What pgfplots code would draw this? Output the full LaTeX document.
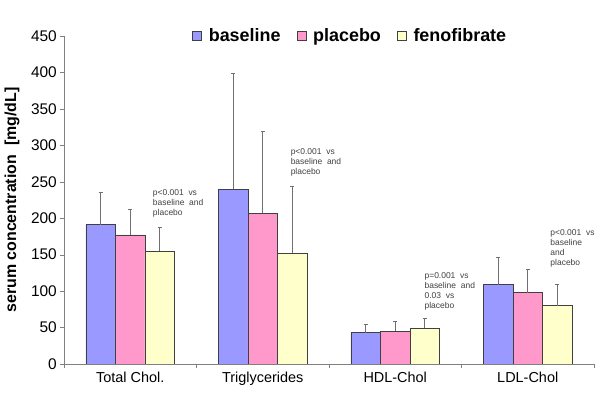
\documentclass[border=0pt]{standalone}
\usepackage{pgfplots}
\pgfplotsset{compat=1.18}
\usepackage{fontspec}
\setmainfont{Liberation Sans}
\definecolor{cBase}{HTML}{9999FF}
\definecolor{cPlac}{HTML}{FF99CC}
\definecolor{cFeno}{HTML}{FFFFCC}
\definecolor{cEdge}{HTML}{404040}
\definecolor{cAxis}{HTML}{808080}
\definecolor{cErr}{HTML}{707070}
\definecolor{cNote}{HTML}{404040}
\begin{document}
\begin{tikzpicture}
\begin{axis}[
  scale only axis,
  width=530bp, height=328bp,
  ybar=0pt, bar width=29.5bp,
  xmin=-0.5, xmax=3.5,
  ymin=0, ymax=450,
  ytick={0,50,...,450},
  xtick={0,1,2,3},
  xticklabels={Total Chol.,Triglycerides,HDL-Chol,LDL-Chol},
  minor xtick={-0.5,0.5,1.5,2.5,3.5},
  major x tick style={draw=none},
  minor x tick style={draw=cAxis},
  y tick style={draw=cAxis},
  tick align=outside,
  major tick length=4bp, minor tick length=4bp,
  axis x line*=bottom, axis y line*=left,
  axis line style={cAxis},
  /pgf/number format/assume math mode=true,
  yticklabel style={font=\fontsize{15.5}{17}\selectfont, inner sep=3bp},
  xticklabel style={font=\fontsize{14.5}{16}\selectfont, yshift=-1bp},
  ylabel={serum concentration\ \ [mg/dL]},
  ylabel style={at={(axis description cs:-0.098,0.5)}, anchor=center, font=\bfseries\fontsize{16}{18}\selectfont},
  legend columns=3,
  legend style={draw=none, fill=none, at={(0.54,1.0)}, anchor=center,
    font=\bfseries\fontsize{18}{20}\selectfont, inner sep=0pt,
    /tikz/every even column/.append style={column sep=14bp},
    /tikz/every odd column/.append style={column sep=5bp}},
  legend image code/.code={\draw[#1, draw=cEdge, line width=0.6bp] (0bp,-4.5bp) rectangle (9bp,4.5bp);},
  error bars/y dir=plus, error bars/y explicit,
  error bars/error bar style={cErr, line width=0.8bp},
  error bars/error mark options={rotate=90, mark size=2bp, cErr, line width=0.8bp},
]
\addplot[fill=cBase, draw=cEdge, line width=0.6bp] coordinates {(0,191) +- (0,45) (1,240) +- (0,159) (2,43) +- (0,11) (3,109) +- (0,37)};
\addplot[fill=cPlac, draw=cEdge, line width=0.6bp] coordinates {(0,177) +- (0,35) (1,207) +- (0,112) (2,45) +- (0,13) (3,98) +- (0,32)};
\addplot[fill=cFeno, draw=cEdge, line width=0.6bp] coordinates {(0,155) +- (0,33) (1,152) +- (0,92) (2,49) +- (0,14) (3,80) +- (0,29)};
\legend{baseline,placebo,fenofibrate}
\tikzset{note/.style={anchor=north west, align=left, inner sep=0pt, text=cNote, font=\fontsize{8.5}{10}\selectfont}}
\node[note] at (axis cs:0.17,240) {p<0.001\ \ vs\\baseline\ \ and\\placebo};
\node[note] at (axis cs:1.21,296) {p<0.001\ \ vs\\baseline\ \ and\\placebo};
\node[note] at (axis cs:2.22,126) {p=0.001\ \ vs\\baseline\ \ and\\0.03\ \ vs\\placebo};
\node[note] at (axis cs:3.17,184) {p<0.001\ \ vs\\baseline\\and\\placebo};
\end{axis}
\pgfresetboundingbox
\path[use as bounding box] (-64bp,-38bp) rectangle (536bp,364bp);
\end{tikzpicture}
\end{document}
